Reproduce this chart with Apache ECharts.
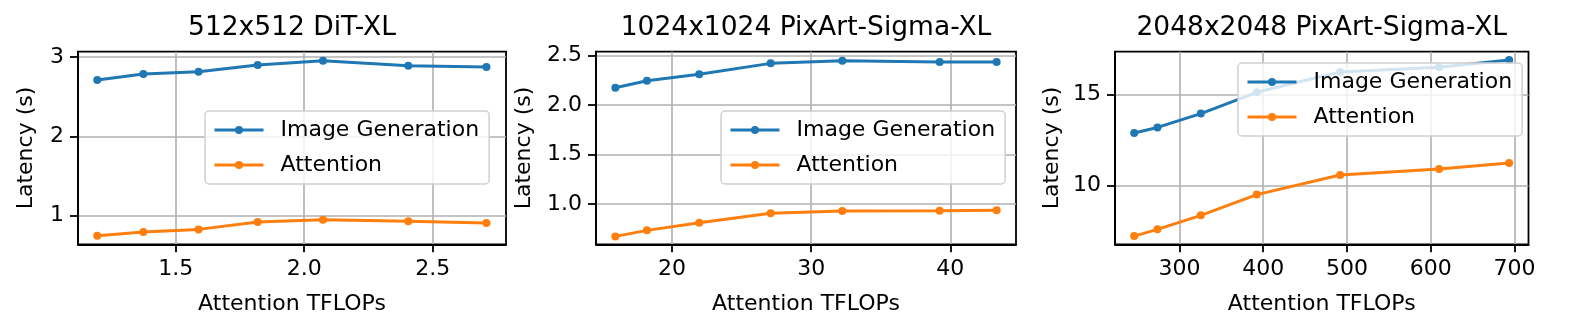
<!DOCTYPE html>
<html lang="en">
<head>
    <meta charset="UTF-8">
    <title>Attention TFLOPs vs latency</title>
    <script src="https://cdn.jsdelivr.net/npm/echarts@6/dist/echarts.min.js"></script>
    <style>
        body { margin: 0; background: #fff; }
        #main { width: 1579px; height: 332px; }
    </style>
</head>
<body>
<div id="main"></div>
<script type="text/javascript">
    // data
    var titles = ['512x512 DiT-XL', '1024x1024 PixArt-Sigma-XL', '2048x2048 PixArt-Sigma-XL'];

    var flops512 = [1.195, 1.374, 1.589, 1.819, 2.073, 2.405, 2.709];
    var imgGen512 = [2.71, 2.786, 2.815, 2.899, 2.954, 2.891, 2.874];
    var attn512 = [0.748, 0.794, 0.828, 0.92, 0.95, 0.929, 0.908];

    var flops1024 = [15.93, 18.2, 21.96, 27.09, 32.24, 39.23, 43.33];
    var imgGen1024 = [2.176, 2.247, 2.311, 2.422, 2.449, 2.436, 2.436];
    var attn1024 = [0.672, 0.733, 0.811, 0.905, 0.929, 0.932, 0.936];

    var flops2048 = [245.9, 273.7, 325.5, 392.3, 491.8, 610, 693.6];
    var imgGen2048 = [12.89, 13.2, 13.96, 15.13, 16.25, 16.5, 16.9];
    var attn2048 = [7.23, 7.6, 8.37, 9.51, 10.59, 10.92, 11.25];

    var xTicks = [[1.5, 2.0, 2.5], [20, 30, 40], [300, 400, 500, 600, 700]];
    var yTicks = [[1, 2, 3], [1.0, 1.5, 2.0, 2.5], [10, 15]];

    var BLUE = '#1f77b4';
    var ORANGE = '#ff7f0e';
    var FONT = 'DejaVu Sans';

    var myChart = echarts.init(document.getElementById('main'));

    var panels = [
        {x: flops512, a: imgGen512, b: attn512, left: 78, width: 428,
         xr: [1.12, 2.785], yr: [0.64, 3.067], xfmt: 1, yfmt: 0, nameGap: 41,
         legend: {left: 205, top: 111, width: 289}},
        {x: flops1024, a: imgGen1024, b: attn1024, left: 596, width: 420,
         xr: [14.54, 44.72], yr: [0.592, 2.54], xfmt: 0, yfmt: 1, nameGap: 61,
         legend: {left: 721, top: 111, width: 284}},
        {x: flops2048, a: imgGen2048, b: attn2048, left: 1115, width: 413.5,
         xr: [223, 716.7], yr: [6.78, 17.36], xfmt: 0, yfmt: 0, nameGap: 52,
         legend: {left: 1238, top: 63, width: 279}}
    ];

    function pairs(xs, ys) {
        return xs.map(function (v, i) { return [v, ys[i]]; });
    }

    var grid = [], xAxis = [], yAxis = [], series = [], title = [], legend = [];

    panels.forEach(function (p, i) {
        grid.push({
            left: p.left, top: 51.7, width: p.width, height: 192.6,
            show: true, borderColor: '#000', borderWidth: 1.8, backgroundColor: 'transparent'
        });
        title.push({
            text: titles[i],
            left: p.left + p.width / 2, top: 13, textAlign: 'center', padding: 0,
            textStyle: {fontFamily: FONT, fontSize: 26.5, fontWeight: 'normal', color: '#000', lineHeight: 30}
        });
        var xd = p.xfmt, yd = p.yfmt;
        xAxis.push({
            type: 'value', gridIndex: i, min: p.xr[0], max: p.xr[1],
            name: 'Attention TFLOPs', nameLocation: 'middle', nameGap: 49,
            nameTextStyle: {fontFamily: FONT, fontSize: 22, color: '#000'},
            axisLine: {show: true, onZero: false, lineStyle: {color: '#000', width: 1.8}},
            axisTick: {show: true, length: 8, customValues: xTicks[i], lineStyle: {color: '#000', width: 1.8}},
            axisLabel: {
                customValues: xTicks[i], margin: 14, fontFamily: FONT, fontSize: 22, color: '#000',
                formatter: function (v) { return v.toFixed(xd); }
            },
            splitLine: {show: true, lineStyle: {color: '#b0b0b0', width: 1.6}}
        });
        yAxis.push({
            type: 'value', gridIndex: i, min: p.yr[0], max: p.yr[1],
            name: 'Latency (s)', nameLocation: 'middle', nameGap: p.nameGap, nameRotate: 90,
            nameTextStyle: {fontFamily: FONT, fontSize: 22, color: '#000'},
            axisLine: {show: true, onZero: false, lineStyle: {color: '#000', width: 1.8}},
            axisTick: {show: true, length: 8, customValues: yTicks[i], lineStyle: {color: '#000', width: 1.8}},
            axisLabel: {
                customValues: yTicks[i], margin: 14, fontFamily: FONT, fontSize: 22, color: '#000',
                formatter: function (v) { return v.toFixed(yd); }
            },
            splitLine: {show: true, lineStyle: {color: '#b0b0b0', width: 1.6}}
        });
        series.push({
            name: 'Image Generation', type: 'line', xAxisIndex: i, yAxisIndex: i,
            data: pairs(p.x, p.a), symbol: 'circle', symbolSize: 8,
            itemStyle: {color: BLUE}, lineStyle: {color: BLUE, width: 3}, z: 3
        });
        series.push({
            name: 'Attention', type: 'line', xAxisIndex: i, yAxisIndex: i,
            data: pairs(p.x, p.b), symbol: 'circle', symbolSize: 8,
            itemStyle: {color: ORANGE}, lineStyle: {color: ORANGE, width: 3}, z: 3
        });
        legend.push({
            data: ['Image Generation', 'Attention'],
            orient: 'vertical', left: p.legend.left, top: p.legend.top, width: p.legend.width,
            padding: [6, 10, 6, 8], itemGap: 9, itemWidth: 49, itemHeight: 10,
            backgroundColor: 'rgba(255,255,255,0.8)', borderColor: '#d0d0d0', borderWidth: 1.5, borderRadius: 4,
            selectedMode: false,
            lineStyle: {width: 3},
            textStyle: {fontFamily: FONT, fontSize: 22, color: '#000', lineHeight: 26, padding: [0, 0, 0, 12]}
        });
    });

    var option = {
        animation: false,
        backgroundColor: '#fff',
        title: title,
        legend: legend,
        grid: grid,
        xAxis: xAxis,
        yAxis: yAxis,
        series: series
    };

    myChart.setOption(option);
</script>
</body>
</html>
